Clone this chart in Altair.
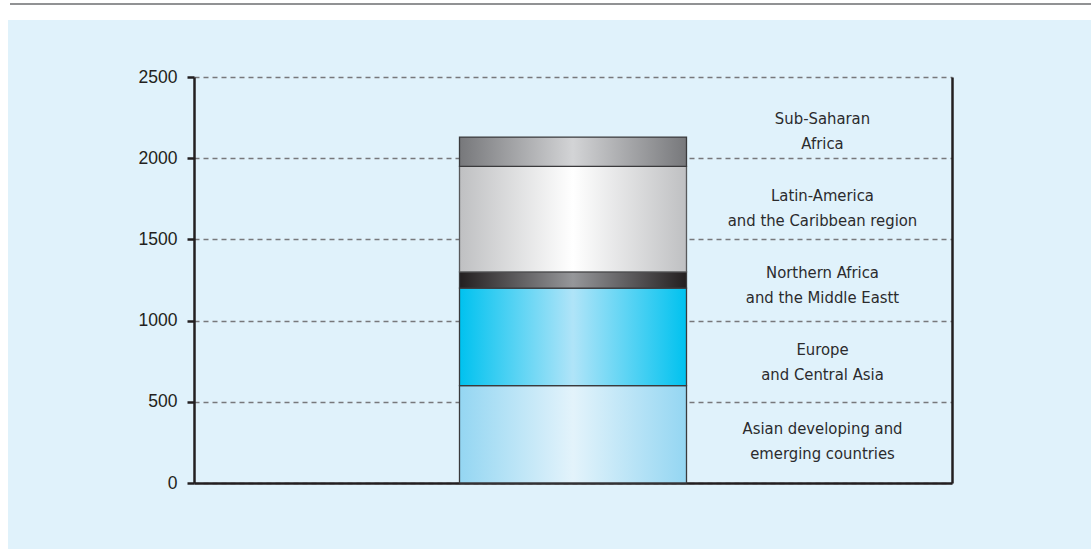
import altair as alt
import pandas as pd

# Regions stacked from the bottom up, with their amounts
regions = [
    "Asian developing and emerging countries",
    "Europe and Central Asia",
    "Northern Africa and the Middle Eastt",
    "Latin-America and the Caribbean region",
    "Sub-Saharan Africa",
]
amounts = [600, 600, 100, 650, 180]

# Two-line captions shown to the right of the bar, and the value each is centred on
caption_lines = [
    ["Asian developing and", "emerging countries"],
    ["Europe", "and Central Asia"],
    ["Northern Africa", "and the Middle Eastt"],
    ["Latin-America", "and the Caribbean region"],
    ["Sub-Saharan", "Africa"],
]
caption_values = [258, 739, 1219, 1693, 2167]

# Horizontal gradient (edge, centre, edge) for each segment
shades = [
    ("#94d6f2", "#e3f3fb"),
    ("#00c2ef", "#b0e4f8"),
    ("#231f20", "#96979a"),
    ("#bfc0c2", "#ffffff"),
    ("#77787b", "#d3d4d6"),
]
outline = ["#3a3a3c", "#3a3a3c", "#3a3a3c", "#58595b", "#3a3a3c"]

slots = ["left", "bar", "labels"]

starts, ends = [], []
running = 0
for a in amounts:
    starts.append(running)
    running += a
    ends.append(running)

bars = pd.DataFrame({"region": regions, "start": starts, "end": ends,
                     "slot": ["bar"] * len(regions)})
captions = pd.DataFrame({"text": caption_lines, "value": caption_values,
                         "slot": ["labels"] * len(caption_values)})

x_scale = alt.Scale(domain=slots, paddingInner=0.145, paddingOuter=0.0)
y_scale = alt.Scale(domain=[0, 2500], nice=False)

x_enc = alt.X("slot:N", scale=x_scale, sort=slots,
              axis=alt.Axis(labels=False, ticks=False, title=None,
                            domainColor="#231f20", domainWidth=2.5))
left_axis = alt.Axis(values=[0, 500, 1000, 1500, 2000, 2500], format="d",
                     grid=True, gridDash=[5, 4], gridColor="#77787b",
                     gridWidth=1.3, domainColor="#231f20", domainWidth=2.5,
                     tickColor="#231f20", tickWidth=2.5, tickSize=7,
                     labelFont="Liberation Sans", labelFontSize=17.5,
                     labelColor="#231f20", labelPadding=10)

layers = []
for i, region in enumerate(regions):
    edge, centre = shades[i]
    grad = alt.Gradient(
        gradient="linear", x1=0, x2=1, y1=0, y2=0,
        stops=[alt.GradientStop(offset=0, color=edge),
               alt.GradientStop(offset=0.5, color=centre),
               alt.GradientStop(offset=1, color=edge)],
    )
    y_enc = alt.Y("start:Q", scale=y_scale, title=None,
                  axis=left_axis if i == 0 else None)
    layer = (
        alt.Chart(bars)
        .transform_filter(alt.datum.region == region)
        .mark_bar(color=grad, stroke=outline[i], strokeWidth=1.3)
        .encode(x=x_enc, y=y_enc, y2="end:Q")
    )
    layers.append(layer)

labels = (
    alt.Chart(captions)
    .mark_text(font="DejaVu Sans Condensed, Roboto Condensed, sans-serif",
               fontSize=16.5, color="#2b2b2d", dx=-16, dy=-12.5,
               lineHeight=25, baseline="middle", align="center")
    .encode(x=alt.X("slot:N", scale=x_scale, sort=slots),
            y=alt.Y("value:Q", scale=y_scale, axis=None), text="text")
)

# Right-hand frame line drawn as an axis on the same value scale
right_frame = (
    alt.Chart(captions)
    .mark_point(opacity=0)
    .encode(x=alt.X("slot:N", scale=x_scale, sort=slots),
            y=alt.Y("value:Q", scale=y_scale, title=None,
                    axis=alt.Axis(orient="right", labels=False, ticks=False,
                                  grid=False, domainColor="#231f20",
                                  domainWidth=2.5)))
)

# Page decoration: white strip above the panel and the thin rule along the top
deco = pd.DataFrame({"k": [0]})
top_strip = alt.Chart(deco).mark_rect(color="white").encode(
    x=alt.value(-194), x2=alt.value(897), y=alt.value(-77), y2=alt.value(-57))
left_strip = alt.Chart(deco).mark_rect(color="white").encode(
    x=alt.value(-194), x2=alt.value(-186), y=alt.value(-77), y2=alt.value(472))
top_rule = alt.Chart(deco).mark_rule(color="#6d6e71", strokeWidth=1.5).encode(
    x=alt.value(-184), x2=alt.value(897), y=alt.value(-73))

chart = (
    alt.layer(top_strip, left_strip, top_rule, *layers, labels, right_frame)
    .resolve_axis(y="independent")
    .properties(width=758, height=406,
                autosize=alt.AutoSizeParams(type="none"),
                padding={"left": 194, "top": 77, "right": 139, "bottom": 66})
    .configure(background="#e0f2fb")
    .configure_view(stroke=None)
)

chart.save("out.html", embed_options={"renderer": "svg", "actions": False})
